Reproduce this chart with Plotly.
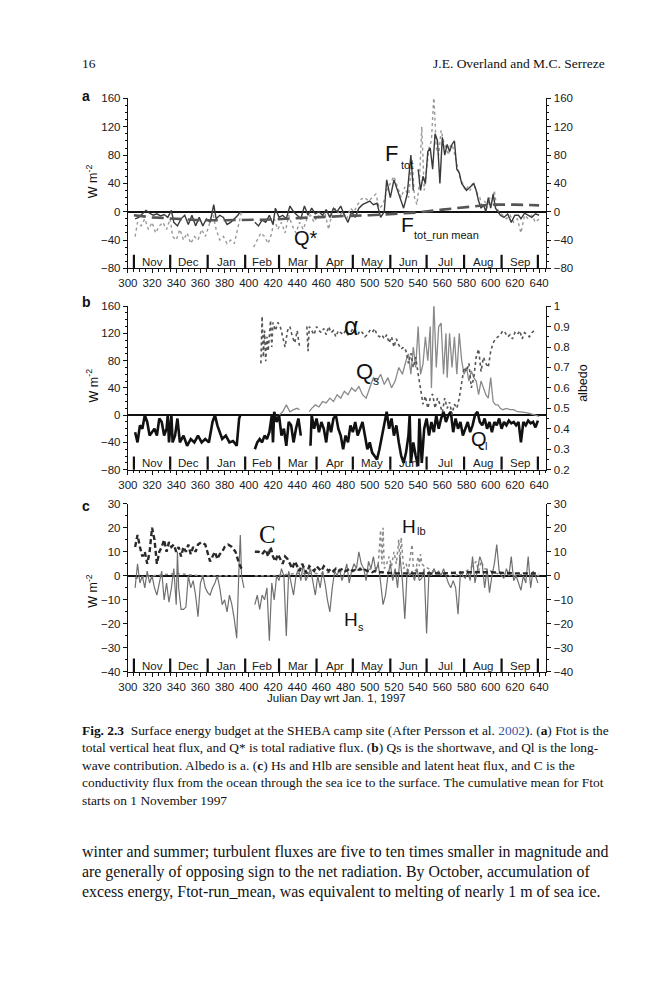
import plotly.graph_objects as go

# ---- data (Julian day wrt Jan 1 1997, value) ----
GAP = (None, None)

months = ["Nov", "Dec", "Jan", "Feb", "Mar", "Apr", "May", "Jun", "Jul", "Aug", "Sep"]
month_starts = [305, 335, 366, 397, 425, 456, 486, 517, 547, 578, 609, 639]

# panel a
qstar = [(306, -35), (308, -15), (311, -20), (314, -10), (317, -25), (320, -15), (323, -30),
         (326, -20), (329, -15), (332, -25), (335, -10), (337, -35), (340, -40), (343, -25),
         (346, -40), (349, -30), (352, -45), (355, -35), (358, -40), (361, -25), (364, -35),
         (367, -20), (370, 0), (373, -25), (376, -40), (379, -35), (382, -45), (385, -40),
         (388, -45), (391, -20), (394, 0), GAP,
         (404, -50), (407, -40), (410, -30), (413, -35), (416, -45), (419, -30), (421, -10),
         (424, -25), (427, -15), (430, -30), (433, -5), (436, -20), (439, -30), (442, -15),
         (445, -25), (448, -10), (451, -5), (454, -15), (457, -5), (460, -10), (463, -2),
         (466, -25), (469, 0), (472, 5), (475, -5), (478, 0), (481, -10), (484, 5), (487, 0),
         (490, 10), (493, 18), (496, 20), (499, 15), (502, 20), (505, 25), (508, 5), (511, 10),
         (514, 30), (517, 40), (520, 50), (523, 35), (526, 20), (529, 35), (532, 20), (535, 75),
         (537, 20), (539, 10), (541, 40), (543, 120), (545, 30), (547, 60), (549, 90), (551, 100),
         (553, 165), (555, 90), (557, 80), (559, 115), (561, 100), (563, 90), (565, 80), (567, 95),
         (569, 90), (571, 75), (573, 60), (575, 45), (577, 40), (579, 30), (581, 35), (583, 30),
         (585, 40), (587, 35), (589, 25), (591, 20), (593, 5), (595, 15), (597, 5), (599, 20),
         (601, 10), (603, 30), (605, 5), (607, 0), (610, -5), (613, -10), (616, -5), (619, -15),
         (622, -10), (625, -30), (628, -5), (631, -10), (634, -5), (637, -15), (640, -10)]

ftot = [(306, -10), (309, -8), (312, -3), (315, 2), (318, -2), (321, -5), (324, -3), (327, -6),
        (330, -4), (333, -8), (336, 2), (338, -15), (341, -20), (344, -10), (347, -5), (350, -18),
        (353, -5), (356, -20), (359, -8), (362, -20), (365, -10), (368, -15), (371, 10), (373, -10),
        (376, -5), (379, -8), (382, -18), (385, -15), (388, -10), (391, -5), (393, 0), GAP,
        (405, -15), (408, -20), (411, -12), (414, -15), (417, -5), (420, -18), (422, 5), (425, -8),
        (428, -5), (431, -10), (434, 8), (437, 0), (440, -5), (443, -10), (446, 8), (449, -5),
        (452, 5), (455, -3), (458, 0), (461, -5), (464, 3), (467, -8), (470, 5), (473, 0), (476, 8),
        (479, -5), (482, -15), (485, 0), (488, -8), (491, 5), (494, 10), (497, 12), (500, 15),
        (503, 10), (506, 12), (509, -8), (512, 0), (514, 45), (517, 20), (520, 45), (523, 30),
        (526, 15), (528, 5), (531, 25), (534, 80), (536, 30), GAP,
        (540, 60), (542, 30), (544, 50), (546, 40), (548, 85), (550, 90), (552, 60), (554, 110),
        (556, 100), (558, 40), (560, 105), (562, 80), (564, 95), (566, 85), (568, 95), (570, 100),
        (572, 60), (574, 55), (576, 40), (578, 35), (580, 30), (583, 35), (586, 40), (588, 30),
        (590, 15), (592, 5), (594, 10), (596, 0), (598, 20), (600, 5), (602, 25), (604, 5), (606, 0),
        (608, -5), (611, -8), (614, -3), (617, -15), (620, -5), (623, -5), (625, -10), (628, -2),
        (631, -5), (634, -8), (637, -3), (640, -5)]

ftot_run_mean = [(305, -5), (320, -8), (340, -10), (360, -12), (380, -12), (400, -12), (420, -11),
                 (440, -9), (460, -7), (480, -6), (500, -5), (520, -3), (540, -1), (560, 3),
                 (580, 7), (600, 10), (620, 10), (640, 9)]

# panel b
albedo = [(410, 0.72), (411, 0.95), (412, 0.75), (413, 0.88), (414, 0.73), (415, 0.85), (416, 0.78),
          (418, 0.93), (419, 0.80), (420, 0.92), (422, 0.88), (424, 0.92), (426, 0.90), (428, 0.85),
          (430, 0.80), (432, 0.88), (434, 0.90), (436, 0.85), (438, 0.82), (440, 0.88), (442, 0.80), GAP,
          (448, 0.90), (449, 0.78), (450, 0.90), (452, 0.88), (454, 0.86), (456, 0.90), (458, 0.88),
          (460, 0.87), (462, 0.89), (464, 0.86), (466, 0.90), (468, 0.87), (470, 0.88), (472, 0.85),
          (474, 0.88), (476, 0.87), (478, 0.86), (480, 0.88), (482, 0.86), (484, 0.87), (486, 0.89),
          (488, 0.87), (490, 0.86), (492, 0.88), (494, 0.87), (496, 0.85), (498, 0.86), (500, 0.88),
          (502, 0.87), (504, 0.89), (506, 0.86), (508, 0.85), (510, 0.86), (512, 0.84), (514, 0.86),
          (516, 0.82), (518, 0.85), (520, 0.80), (522, 0.84), (524, 0.81), (526, 0.79), (528, 0.80),
          (530, 0.78), (532, 0.72), (534, 0.77), (536, 0.70), (538, 0.75), (540, 0.67), (542, 0.60),
          (544, 0.52), (546, 0.56), (548, 0.50), (550, 0.55), (552, 0.57), (554, 0.50), (556, 0.55),
          (558, 0.52), (560, 0.48), (562, 0.55), (564, 0.50), (566, 0.53), (568, 0.47), (570, 0.52),
          (572, 0.50), (574, 0.55), (576, 0.62), (578, 0.70), (580, 0.68), (582, 0.72), (584, 0.60),
          (586, 0.65), (588, 0.75), (590, 0.79), (592, 0.68), (594, 0.75), (596, 0.72), (598, 0.70),
          (600, 0.78), (602, 0.82), (604, 0.84), (606, 0.85), (608, 0.86), (610, 0.88), (612, 0.87),
          (614, 0.85), (616, 0.86), (618, 0.84), (620, 0.87), (622, 0.86), (624, 0.88), (626, 0.84),
          (628, 0.87), (630, 0.86), (632, 0.85), (634, 0.87), (636, 0.88)]

qs = [(425, 0), (428, 5), (431, 15), (434, 5), (437, 8), (440, 10), (442, 8), GAP,
      (450, 5), (452, 10), (455, 15), (458, 12), (461, 20), (464, 18), (467, 25), (470, 20),
      (473, 30), (476, 25), (479, 35), (482, 30), (485, 40), (488, 35), (491, 42), (494, 30),
      (497, 25), (500, 40), (503, 55), (506, 50), (509, 60), (512, 45), (515, 55), (518, 40),
      (521, 50), (524, 70), (527, 60), (530, 80), (532, 90), (534, 60), (536, 100), (538, 70),
      (540, 130), (542, 60), (544, 75), (546, 115), (548, 80), (550, 130), (551, 40), (553, 165),
      (555, 70), (557, 130), (559, 135), (561, 60), (563, 120), (564, 55), (566, 120), (568, 70),
      (570, 115), (572, 60), (574, 120), (576, 80), (578, 60), (580, 70), (582, 50), (584, 65),
      (586, 55), (588, 50), (590, 30), (592, 50), (594, 40), (596, 30), (598, 25), (600, 55),
      (602, 20), (604, 15), (606, 15), (608, 10), (610, 8), (613, 10), (616, 8), (619, 8),
      (622, 5), (625, 5), (628, 4), (631, 3), (634, 2), (637, 0), (640, -2)]

ql = [(306, -25), (308, -40), (310, -15), (312, -20), (314, 0), (316, -10), (318, -30), (320, -25),
      (322, -20), (324, -30), (326, -5), (328, -10), (330, -30), (332, -20), (333, 0), (334, -40),
      (335, -20), (336, 0), (337, -40), (339, -30), (341, -5), (343, -40), (346, -30), (349, -45),
      (352, -35), (355, -40), (358, -30), (361, -40), (364, -35), (367, -40), (370, -10), (372, 0),
      (374, -15), (376, -25), (378, -35), (381, -30), (384, -40), (387, -38), (390, -45), (392, -5),
      (393, 0), GAP,
      (405, -50), (407, -40), (409, -35), (411, -40), (413, -30), (415, -35), (417, -25), (419, 0),
      (420, -40), (421, 5), (423, -10), (425, 0), (427, -30), (429, -20), (431, -45), (433, -10),
      (435, -15), (437, -40), (439, -20), (441, -5), (443, -30), GAP,
      (451, -45), (452, 0), (454, -20), (456, -5), (458, -25), (460, -10), (462, -20), (464, -40),
      (466, -10), (468, -25), (470, -5), (472, 0), (474, -20), (476, -30), (478, -50), (480, -30),
      (482, -40), (484, -15), (486, -25), (488, -10), (490, -30), (492, -20), (494, -10), (496, -30),
      (498, -50), (500, -40), (502, -55), (504, -60), (506, -65), (508, -50), (510, -30), (512, -10),
      (514, 5), (516, -20), (518, -5), (520, -30), (522, -15), (524, -40), (526, -60), (528, -70),
      (530, -55), (532, -30), (533, 0), (534, -70), (536, -40), (538, -60), (540, -75), (541, -5),
      (543, -70), (545, -20), (547, -5), (549, -30), (551, -10), (553, -25), (555, 0), (557, -20),
      (559, -5), (561, 5), (563, -10), (565, 0), (567, 5), (569, -25), (571, -5), (573, -20),
      (575, -10), (577, -30), (579, -20), (581, -10), (583, -25), (585, -15), (587, 0), (589, 5),
      (591, -10), (593, -15), (595, -5), (597, -20), (599, -10), (601, -25), (603, -10), (605, -15),
      (607, -5), (609, -20), (611, -10), (613, -15), (615, -8), (617, -12), (619, -10), (621, -15),
      (623, -10), (625, -40), (627, -10), (629, -15), (631, -8), (633, -12), (635, -10), (637, -18),
      (639, -8)]

# panel c
cond = [(306, 12), (308, 17), (310, 12), (312, 8), (314, 10), (316, 5), (318, 10), (320, 20),
        (322, 15), (324, 5), (326, 10), (328, 12), (330, 15), (332, 10), (334, 14), (336, 12),
        (338, 13), (340, 10), (342, 12), (344, 8), (346, 12), (348, 10), (350, 13), (352, 9),
        (354, 12), (356, 10), (358, 13), (361, 14), (364, 13), (366, 9), (368, 6), (370, 8),
        (372, 10), (374, 7), (376, 9), (378, 10), (380, 12), (383, 13), (386, 12), (389, 10),
        (392, 5), (394, 3), GAP,
        (405, 10), (408, 10), (411, 9), (414, 11), (416, 8), (418, 12), (420, 8), (422, 6), (424, 9),
        (426, 7), (428, 5), (430, 8), (432, 7), (434, 5), (436, 3), (438, 6), (440, 4), (442, 2),
        (444, 5), (446, 3), (448, 1), (450, 4), (452, 3), (454, 2), (456, 4), (458, 3), (460, 2),
        (462, 4), (464, 3), (466, 2), (468, 3), (470, 2), (472, 3), (474, 2), (476, 2.5), (478, 3),
        (480, 2), (482, 2.5), (484, 3), (486, 2), (488, 2.5), (490, 2), (492, 3), (494, 2),
        (496, 2.5), (498, 2), (500, 2), (502, 1.5), (504, 2), (506, 1.5), (510, 1.5), (520, 1),
        (540, 1), (560, 1), (580, 1.5), (600, 1.5), (620, 1), (640, 1)]

hs = [(306, -5), (308, 5), (310, -3), (312, 0), (314, -5), (316, 2), (318, -3), (320, 0),
      (322, -5), (324, -8), (326, -3), (328, 2), (330, -10), (332, -3), (334, -11), (336, -5),
      (338, 3), (340, -12), (341, 10), (342, -5), (344, -14), (346, -14), (348, -13), (350, 0),
      (352, -5), (354, -2), (356, -8), (358, -17), (360, -3), (362, 0), (364, -5), (366, -7),
      (368, -8), (370, -5), (372, -3), (374, 0), (376, -5), (378, -12), (380, -10), (382, -15),
      (384, -8), (386, -12), (388, -18), (390, -26), (392, 5), (393, 17), (394, 0), (396, -5), GAP,
      (405, -12), (407, -8), (409, -14), (411, -8), (413, -10), (415, -5), (417, -27), (419, -3),
      (421, -10), (423, 0), (425, -2), (427, 3), (429, 0), (431, -25), (433, 2), (435, -3),
      (437, -8), (439, 0), (441, 3), (443, -2), (445, 5), (447, -2), (449, 0), (451, 3), (453, -2),
      (455, -8), (457, 0), (459, -5), (461, 2), (463, -3), (465, -10), (467, -15), (469, -5),
      (471, 2), (473, 0), (475, 3), (477, -2), (479, 1), (481, 5), (483, -3), (485, 2), (487, 5),
      (489, 3), (491, 10), (493, 5), (495, 3), (497, -2), (499, 6), (501, 3), (503, 8), (505, 2),
      (507, 5), (509, -3), (511, -12), (513, -8), (515, 0), (517, 5), (519, -2), (521, 3),
      (523, -5), (525, 8), (527, -2), (529, -18), (531, 3), (533, 0), (535, 2), (537, -2),
      (539, 3), (541, -2), (543, -1), (545, 3), (547, -24), (549, 2), (551, 0), (553, 3), (555, 1),
      (557, 2), (559, 0), (561, 3), (563, 0), (565, -3), (567, -5), (569, -2), (571, -5),
      (573, -16), (575, 2), (577, 0), (579, -1), (581, 2), (583, -2), (585, 8), (587, -3), (589, 2),
      (591, 8), (593, 5), (595, -5), (597, 3), (599, -7), (601, 0), (603, 5), (605, 13), (607, 2),
      (609, 0), (611, -1), (613, 3), (615, 0), (617, 8), (619, -2), (621, 0), (623, -3), (625, -6),
      (627, 0), (629, -3), (631, 8), (633, -5), (635, 2), (637, 0), (639, -3)]

hlb = [(306, -1), (320, 0), (340, 1), (360, 0), (380, 0), (394, 0), GAP,
       (405, 0), (420, 0), (440, 1), (460, 1), (480, 2), (500, 3), (505, 3), (507, 5), (509, 19),
       (510, 5), (511, 20), (512, 3), (514, 5), (516, 8), (518, 4), (520, 10), (522, 5), (524, 15),
       (525, 5), (526, 16), (527, 8), (528, 3), (530, 5), (532, 2), (534, 10), (535, 13), (536, 4),
       (538, 2), (540, 8), (541, 4), (542, 9), (543, 5), (545, 4), (548, 3), (552, 2), (556, 1),
       (560, 1), (565, 0), (570, 0), (575, 1), (580, 2), (585, 4), (588, 6), (590, 2), (592, 6),
       (595, 3), (600, 2), (605, 1), (610, 1), (620, 0), (630, 1), (640, 0)]

caption_lines = [
    "<b>Fig. 2.3</b>  Surface energy budget at the SHEBA camp site (After Persson et al. "
    "<span style='color:#3d55a8'>2002</span>). (<b>a</b>) Ftot is the",
    "total vertical heat flux, and Q* is total radiative flux. (<b>b</b>) Qs is the shortwave, and Ql is the long-",
    "wave contribution. Albedo is a. (<b>c</b>) Hs and Hlb are sensible and latent heat flux, and C is the",
    "conductivity flux from the ocean through the sea ice to the surface. The cumulative mean for Ftot",
    "starts on 1 November 1997",
]
body_lines = [
    "winter and summer; turbulent fluxes are five to ten times smaller in magnitude and",
    "are generally of opposing sign to the net radiation. By October, accumulation of",
    "excess energy, Ftot-run_mean, was equivalent to melting of nearly 1 m of sea ice.",
]

W, H = 659, 1000
SANS = "Liberation Sans, Arial, sans-serif"
SERIF = "Liberation Serif, Times New Roman, serif"


# the page photo comes out slightly shrunk, so place things in page pixels and undo that
def X(p):
    return (p - 10) / 0.983


def Y(p):
    return (p - 6) / 0.9866


def xs(pts):
    return [p[0] for p in pts]


def ys(pts):
    return [p[1] for p in pts]


def line(pts, xa, ya, color, width, dash="solid"):
    return go.Scatter(x=xs(pts), y=ys(pts), xaxis=xa, yaxis=ya, mode="lines",
                      line=dict(color=color, width=width, dash=dash),
                      connectgaps=False, showlegend=False, hoverinfo="skip")


fig = go.Figure()

# panel a
fig.add_trace(line(qstar, "x", "y", "#9a9a9a", 1.4, "dot"))
fig.add_trace(line(ftot, "x", "y", "#3a3a3a", 1.4))
fig.add_trace(line(ftot_run_mean, "x", "y", "#555555", 2.6, "12px,6px"))
fig.add_trace(line([(300, 0)], "x", "y4", "rgba(0,0,0,0)", 1))

# panel b
fig.add_trace(line(albedo, "x2", "y5", "#555555", 1.6, "dot"))
fig.add_trace(line(qs, "x2", "y2", "#8a8a8a", 1.3))
fig.add_trace(line(ql, "x2", "y2", "#111111", 2.6))

# panel c
fig.add_trace(line(hlb, "x3", "y3", "#8a8a8a", 1.5, "dot"))
fig.add_trace(line(hs, "x3", "y3", "#707070", 1.2))
fig.add_trace(line(cond, "x3", "y3", "#2a2a2a", 2.4, "5px,3px"))
fig.add_trace(line([(300, 0)], "x3", "y6", "rgba(0,0,0,0)", 1))

xdom = [X(128) / W, X(547) / W]
panels = {  # plot area rows on the page
    "a": (98.3, 268.0),
    "b": (305.7, 469.0),
    "c": (503.0, 671.0),
}


def ydom(key):
    top, bot = panels[key]
    return [1 - Y(bot) / H, 1 - Y(top) / H]


tickfont = dict(family=SANS, size=11.5, color="#1a1a1a")

xcommon = dict(domain=xdom, range=[300, 646], showline=True, linecolor="#111", linewidth=1.2,
               ticks="outside", ticklen=4, tickwidth=1, tickcolor="#111", tick0=300, dtick=20,
               minor=dict(dtick=5, ticklen=2.5, ticks="outside", tickcolor="#111"),
               showgrid=False, zeroline=False, tickfont=tickfont)


def ycommon(key, rng, dtick, mdt, zero=True):
    return dict(domain=ydom(key), range=rng, dtick=dtick, showline=True, linecolor="#111",
                linewidth=1.2, ticks="outside", ticklen=4, tickcolor="#111",
                minor=dict(dtick=mdt, ticklen=2, ticks="outside", tickcolor="#111"),
                showgrid=False, zeroline=zero, zerolinecolor="#111", zerolinewidth=1.6,
                tickfont=tickfont)


fig.update_layout(
    width=W, height=H, margin=dict(l=0, r=0, t=0, b=0),
    paper_bgcolor="white", plot_bgcolor="white",
    xaxis=dict(xcommon, anchor="y"),
    xaxis2=dict(xcommon, anchor="y2"),
    xaxis3=dict(xcommon, anchor="y3"),
    yaxis=dict(ycommon("a", [-80, 160], 40, 10), anchor="x"),
    yaxis2=dict(ycommon("b", [-80, 160], 40, 10), anchor="x2"),
    yaxis3=dict(ycommon("c", [-40, 30], 10, 5), anchor="x3"),
    yaxis4=dict(ycommon("a", [-80, 160], 40, 10, False), anchor="x", overlaying="y", side="right"),
    yaxis5=dict(ycommon("b", [0.2, 1.0], 0.1, 0.05, False), anchor="x2", overlaying="y2",
                side="right"),
    yaxis6=dict(ycommon("c", [-40, 30], 10, 5, False), anchor="x3", overlaying="y3", side="right"),
)

# month band at the bottom of each panel
shapes = []
annos = []
for xa, ya in [("x", "y"), ("x2", "y2"), ("x3", "y3")]:
    for d in month_starts:
        shapes.append(dict(type="line", xref=xa, yref=ya + " domain", x0=d, x1=d, y0=0, y1=0.08,
                           line=dict(color="#111", width=2.2)))
    for i, m in enumerate(months):
        mid = (month_starts[i] + month_starts[i + 1]) / 2
        annos.append(dict(text=m, xref=xa, yref=ya + " domain", x=mid, y=0.038, showarrow=False,
                          xanchor="center", yanchor="middle",
                          font=dict(family=SANS, size=11.5, color="#1a1a1a")))


def px(x, y, text, size, family=SANS, anchor="left", angle=0, color="#111"):
    annos.append(dict(text=text, xref="paper", yref="paper", x=X(x) / W, y=1 - Y(y) / H,
                      showarrow=False, xanchor=anchor, yanchor="middle", textangle=angle,
                      font=dict(family=family, size=size, color=color)))


def dat(xa, ya, x, y, text, size, family=SANS):
    annos.append(dict(text=text, xref=xa, yref=ya, x=x, y=y, showarrow=False,
                      xanchor="left", yanchor="middle",
                      font=dict(family=family, size=size, color="#111")))


# series labels
dat("x", "y", 511, 82, "F", 22)
dat("x", "y", 524, 66, "tot", 11)
dat("x", "y", 524, -18, "F", 21)
dat("x", "y", 535, -33, "tot_run mean", 11)
dat("x", "y", 436, -37, "Q*", 20)
dat("x2", "y2", 477, 131, "α", 25)
dat("x2", "y2", 487, 64, "Q", 22)
dat("x2", "y2", 501, 50, "s", 12)
dat("x2", "y2", 582, -35, "Q", 20)
dat("x2", "y2", 594, -45, "l", 11)
dat("x3", "y3", 407, 17, "C", 25, SERIF)
dat("x3", "y3", 525, 20.5, "H", 19)
dat("x3", "y3", 537, 18.5, "lb", 11)
dat("x3", "y3", 477, -18, "H", 19)
dat("x3", "y3", 489, -21.5, "s", 11)

# panel letters and axis titles
px(80, 96, "<b>a</b>", 14)
px(80, 302, "<b>b</b>", 14)
px(80, 505, "<b>c</b>", 14)
for cy in [181, 385, 590]:
    px(92, cy, "W m<sup>-2</sup>", 12.5, anchor="center", angle=-90)
px(583, 382, "albedo", 12.5, anchor="center", angle=-90)
px(337, 697, "Julian Day wrt Jan. 1, 1997", 11.5, anchor="center")

# page text
px(80, 63, "16", 13.5, SERIF)
px(608, 63, "J.E. Overland and M.C. Serreze", 13.5, SERIF, anchor="right")
for i, t in enumerate(caption_lines):
    px(80, 729 + i * 17.6, t, 13.4, SERIF)
for i, t in enumerate(body_lines):
    px(80, 851 + i * 20, t, 15.9, SERIF)

fig.update_layout(shapes=shapes, annotations=annos)
fig.write_html("out.html", config={"displayModeBar": False},
               post_script="document.body.style.margin='0';"
                           "document.body.style.overflow='hidden';")
